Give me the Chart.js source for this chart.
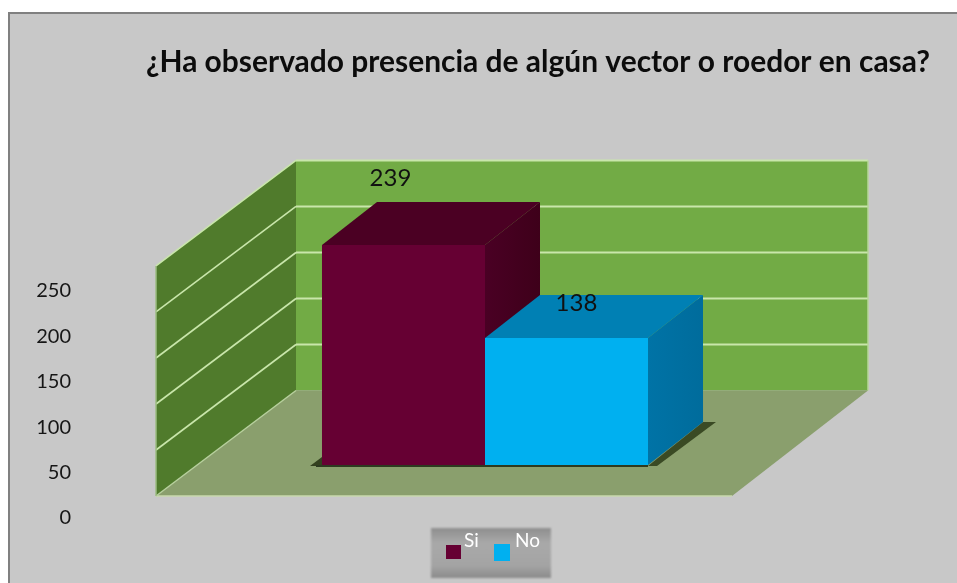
<!DOCTYPE html>
<html>
<head>
<meta charset="utf-8">
<title>Vectores y roedores</title>
<script src="https://cdn.jsdelivr.net/npm/chart.js@4/dist/chart.umd.min.js"></script>
<style>
  html, body { margin: 0; background: #fff; }
  canvas { display: block; }
</style>
</head>
<body>
<canvas id="vector-chart" width="957" height="583"></canvas>
<script>
const categories = [""];
const seriesNames = ["Si", "No"];
const siValues = [239];
const noValues = [138];
const yTicks = [0, 50, 100, 150, 200, 250];

const titleText = "¿Ha observado presencia de algún vector o roedor en casa?";
const fontName = "Lato, 'Noto Sans', sans-serif";

// oblique offsets from the plane of the bars to the chart box edges
const wallBack = { dy: -74.5, dxLeft: 99, dxRight: 95 };
const wallFront = { dy: 31, dx: -41 };
const barDepth = { dx: 55, dy: -43 };

const barFaces = [
  { front: "#660033", top: "#4b0023", side: ["#4a0024", "#3e001a"] },
  { front: "#00b0f0", top: "#0080b4", side: ["#0073a6", "#006c9c"] },
];

// value labels sit above the depth faces, offset from the bar's top centre
const labelOffsets = [{ x: -13, y: -67 }, { x: 10, y: -35 }];

function poly(ctx, pts, fill) {
  ctx.beginPath();
  pts.forEach((p, i) => (i ? ctx.lineTo(p[0], p[1]) : ctx.moveTo(p[0], p[1])));
  ctx.closePath();
  ctx.fillStyle = fill;
  ctx.fill();
}

function line(ctx, x1, y1, x2, y2, color, width) {
  ctx.beginPath();
  ctx.moveTo(x1, y1);
  ctx.lineTo(x2, y2);
  ctx.strokeStyle = color;
  ctx.lineWidth = width;
  ctx.stroke();
}

function drawBox(chart) {
  const ctx = chart.ctx;
  const xs = chart.scales.x;
  const ys = chart.scales.yBar;
  const y0 = ys.getPixelForValue(0);
  const yTop = ys.getPixelForValue(yTicks[yTicks.length - 1]);

  const fl = xs.left + wallFront.dx;
  const fr = xs.right + wallFront.dx;
  const bl = xs.left + wallBack.dxLeft;
  const br = xs.right + wallBack.dxRight;

  // back wall, side wall and floor
  poly(ctx, [[bl, yTop + wallBack.dy], [br, yTop + wallBack.dy], [br, y0 + wallBack.dy], [bl, y0 + wallBack.dy]], "#72ab45");
  poly(ctx, [[fl, yTop + wallFront.dy], [bl, yTop + wallBack.dy], [bl, y0 + wallBack.dy], [fl, y0 + wallFront.dy]], "#507b2c");
  poly(ctx, [[fl, y0 + wallFront.dy], [bl, y0 + wallBack.dy], [br, y0 + wallBack.dy], [fr, y0 + wallFront.dy]], "#8a9f6d");

  yTicks.forEach((v) => {
    const py = ys.getPixelForValue(v);
    if (v > 0) {
      line(ctx, bl, py + wallBack.dy, br, py + wallBack.dy, "#c9e6ab", 2);
      line(ctx, fl, py + wallFront.dy, bl, py + wallBack.dy, "#c9e6ab", 1.6);
    }
  });
  line(ctx, fl, y0 + wallFront.dy, fr, y0 + wallFront.dy, "#c8d8ae", 1.5);
  line(ctx, fl, y0 + wallFront.dy, bl, y0 + wallBack.dy, "#b6cf9c", 1.5);
  line(ctx, fl, yTop + wallFront.dy, fl, y0 + wallFront.dy, "#9dbd83", 1.5);
  line(ctx, br, yTop + wallBack.dy, br, y0 + wallBack.dy, "#b7d69a", 1.5);
}

function drawBarDepth(chart) {
  const ctx = chart.ctx;
  const si = chart.getDatasetMeta(0).data[0];
  const no = chart.getDatasetMeta(1).data[0];

  // floor shadows
  const siLeft = si.x - si.width / 2;
  const noRight = no.x + no.width / 2;
  poly(ctx, [[siLeft - 12, si.base + 1], [siLeft, si.base - 8], [siLeft, si.base + 1]], "#33401f");
  poly(ctx, [[noRight, no.base + 1], [noRight + barDepth.dx, no.base + barDepth.dy],
    [noRight + barDepth.dx + 13, no.base + barDepth.dy], [noRight + 9, no.base + 1]], "#3a4a24");
  line(ctx, siLeft - 6, si.base + 1, noRight, no.base + 1, "#2d3a20", 2);

  [si, no].forEach((bar, i) => {
    const l = bar.x - bar.width / 2;
    const r = bar.x + bar.width / 2;
    const colors = barFaces[i];
    const d = barDepth;
    const g = ctx.createLinearGradient(r, 0, r + d.dx, 0);
    g.addColorStop(0, colors.side[0]);
    g.addColorStop(1, colors.side[1]);
    poly(ctx, [[r, bar.y], [r + d.dx, bar.y + d.dy], [r + d.dx, bar.base + d.dy], [r, bar.base]], g);
    poly(ctx, [[l, bar.y], [l + d.dx, bar.y + d.dy], [r + d.dx, bar.y + d.dy], [r, bar.y]], colors.top);
  });
}

function drawValueLabels(chart) {
  const ctx = chart.ctx;
  ctx.font = "24px " + fontName;
  ctx.fillStyle = "#111";
  ctx.textAlign = "center";
  ctx.textBaseline = "middle";
  chart.data.datasets.forEach((ds, i) => {
    const bar = chart.getDatasetMeta(i).data[0];
    ctx.fillText(ds.data[0], bar.x + labelOffsets[i].x, bar.y + labelOffsets[i].y);
  });
}

function drawLegend(chart) {
  const ctx = chart.ctx;
  const g = ctx.createLinearGradient(0, 528, 0, 578);
  g.addColorStop(0, "#8e8e8e");
  g.addColorStop(0.3, "#a9a9a9");
  g.addColorStop(0.75, "#a4a4a4");
  g.addColorStop(1, "#8b8b8b");
  ctx.filter = "blur(1px)";
  ctx.fillStyle = g;
  ctx.fillRect(431, 528, 120, 50);

  const swatches = [[446, 545, 15, 14], [494, 544, 16, 17]];
  const labelX = [464, 515];
  ctx.font = "19px " + fontName;
  ctx.textAlign = "left";
  ctx.textBaseline = "middle";
  chart.data.datasets.forEach((ds, i) => {
    const s = swatches[i];
    ctx.filter = "blur(0.6px)";
    ctx.fillStyle = ds.backgroundColor;
    ctx.fillRect(s[0], s[1], s[2], s[3]);
    ctx.filter = "none";
    ctx.fillStyle = "#fff";
    ctx.fillText(ds.label, labelX[i], 541);
  });
}

const boxPlugin = {
  id: "box3d",
  beforeDraw(chart) {
    const ctx = chart.ctx;
    ctx.save();
    ctx.fillStyle = "#808080";
    ctx.fillRect(8, 12, chart.width - 8, chart.height - 12);
    ctx.fillStyle = "#c8c8c8";
    ctx.fillRect(10, 14, chart.width - 10, chart.height - 14);
    ctx.restore();
  },
  afterLayout(chart) {
    // the title sits right of the plot centre
    chart.titleBlock.left = 146;
    chart.titleBlock.right = 930;
  },
  beforeDatasetsDraw(chart) {
    const ctx = chart.ctx;
    ctx.save();
    ctx.filter = "blur(0.7px)";
    drawBox(chart);
    drawBarDepth(chart);
    ctx.restore();
  },
  afterDatasetsDraw(chart) {
    const ctx = chart.ctx;
    ctx.save();
    drawValueLabels(chart);
    drawLegend(chart);
    ctx.restore();
  },
};

const ctx = document.getElementById("vector-chart").getContext("2d");
new Chart(ctx, {
  type: "bar",
  plugins: [boxPlugin],
  data: {
    labels: categories,
    datasets: [
      { label: seriesNames[0], data: siValues, backgroundColor: barFaces[0].front, yAxisID: "yBar" },
      { label: seriesNames[1], data: noValues, backgroundColor: barFaces[1].front, yAxisID: "yBar" },
    ],
  },
  options: {
    responsive: false,
    animation: false,
    events: [],
    layout: { padding: { top: 0, left: 0, right: 184, bottom: 65 } },
    datasets: { bar: { categoryPercentage: 0.566, barPercentage: 1 } },
    plugins: {
      legend: { display: false },
      tooltip: { enabled: false },
      title: {
        display: true,
        text: titleText,
        color: "#0c0c0c",
        align: "center",
        font: { family: fontName, size: 30, weight: "bold", lineHeight: 1 },
        padding: { top: 47, bottom: 23 },
      },
    },
    scales: {
      x: { display: false },
      // visible axis: its labels run lower than the bars
      y: {
        position: "left",
        min: 0,
        max: 460.3,
        grid: { display: false, drawTicks: false },
        border: { display: false },
        afterBuildTicks(scale) {
          scale.ticks = yTicks.map((v) => ({ value: v }));
        },
        afterFit(scale) {
          // tick padding would otherwise also be reserved above and below
          scale.width = 197;
          scale.paddingTop = 0;
          scale.paddingBottom = 0;
        },
        ticks: {
          autoSkip: false,
          padding: 126,
          color: "#161616",
          font: { family: fontName, size: 20 },
        },
      },
      // plane of the bars and walls
      yBar: {
        display: false,
        position: "left",
        min: -57.6,
        max: 396.7,
      },
    },
  },
});
</script>
</body>
</html>
